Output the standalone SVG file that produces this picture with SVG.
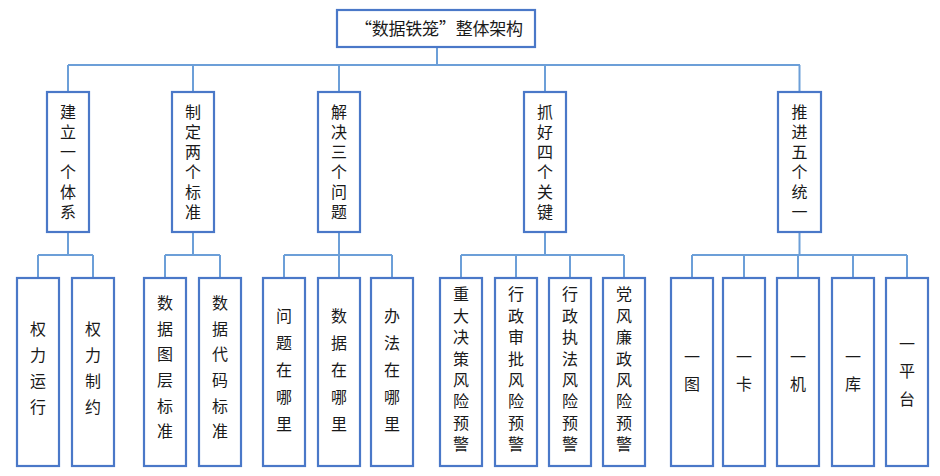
<svg xmlns="http://www.w3.org/2000/svg" width="940" height="476" viewBox="0 0 940 476">
<style>
.box{fill:#fff;stroke:#4a78c8;stroke-width:2.2}
.ln{stroke:#6c9fd8;stroke-width:2;fill:none}
text{font-family:"Noto Sans CJK SC","Liberation Sans",sans-serif;font-size:16px;fill:#1a1a1a;text-anchor:middle}
.v{writing-mode:vertical-rl;text-orientation:upright}
.v1{letter-spacing:4px}
</style>
<rect width="940" height="476" fill="#fff"/>
<g id="connectors">
<path class="ln" d="M437 47V65M68 65H800M68 65V92M193 65V92M339 65V92M545 65V92M799.5 65V92"/>
<path class="ln" d="M68 232V255M38 255H93M38 255V278M93 255V278"/>
<path class="ln" d="M193 232V255M165 255H220M165 255V278M220 255V278"/>
<path class="ln" d="M339 232V255M284 255H392M284 255V278M339 255V278M392 255V278"/>
<path class="ln" d="M545 232V255M461 255H624M461 255V278M516 255V278M570 255V278M624 255V278"/>
<path class="ln" d="M799.5 232V255M692 255H907M692 255V278M744 255V278M798 255V278M853 255V278M907 255V278"/>
</g>
<g id="root"><rect class="box" x="337" y="10" width="198" height="37"/><text x="439" y="35" style="font-size:17px" textLength="168" lengthAdjust="spacing">“数据铁笼”整体架构</text></g>
<g id="l1a"><rect class="box" x="47" y="92" width="42" height="140"/><text class="v v1" x="68" y="164">建立一个体系</text></g>
<g id="l1b"><rect class="box" x="172" y="92" width="42" height="140"/><text class="v v1" x="193" y="164">制定两个标准</text></g>
<g id="l1c"><rect class="box" x="318" y="92" width="42" height="140"/><text class="v v1" x="339" y="164">解决三个问题</text></g>
<g id="l1d"><rect class="box" x="524" y="92" width="42" height="140"/><text class="v v1" x="545" y="164">抓好四个关键</text></g>
<g id="l1e"><rect class="box" x="778" y="92" width="43" height="140"/><text class="v v1" x="799.5" y="164">推进五个统一</text></g>
<g id="a1"><rect class="box" x="17" y="278" width="42" height="188"/><text class="v" x="38" y="373" style="letter-spacing:10px">权力运行</text></g>
<g id="a2"><rect class="box" x="72" y="278" width="42" height="188"/><text class="v" x="93" y="373" style="letter-spacing:10px">权力制约</text></g>
<g id="b1"><rect class="box" x="144" y="278" width="42" height="188"/><text class="v" x="165" y="372" style="letter-spacing:9.6px">数据图层标准</text></g>
<g id="b2"><rect class="box" x="199" y="278" width="42" height="188"/><text class="v" x="220" y="372" style="letter-spacing:9.6px">数据代码标准</text></g>
<g id="c1"><rect class="box" x="263" y="278" width="42" height="188"/><text class="v" x="284" y="375" style="letter-spacing:11px">问题在哪里</text></g>
<g id="c2"><rect class="box" x="318" y="278" width="42" height="188"/><text class="v" x="339" y="375" style="letter-spacing:11px">数据在哪里</text></g>
<g id="c3"><rect class="box" x="371" y="278" width="42" height="188"/><text class="v" x="392" y="375" style="letter-spacing:11px">办法在哪里</text></g>
<g id="d1"><rect class="box" x="440" y="278" width="42" height="188"/><text class="v" x="461" y="372" style="letter-spacing:5.4px">重大决策风险预警</text></g>
<g id="d2"><rect class="box" x="495" y="278" width="42" height="188"/><text class="v" x="516" y="372" style="letter-spacing:5.4px">行政审批风险预警</text></g>
<g id="d3"><rect class="box" x="549" y="278" width="42" height="188"/><text class="v" x="570" y="372" style="letter-spacing:5.4px">行政执法风险预警</text></g>
<g id="d4"><rect class="box" x="603" y="278" width="42" height="188"/><text class="v" x="624" y="372" style="letter-spacing:5.4px">党风廉政风险预警</text></g>
<g id="e1"><rect class="box" x="671" y="278" width="42" height="188"/><text class="v" x="692" y="376" style="letter-spacing:11px">一图</text></g>
<g id="e2"><rect class="box" x="723" y="278" width="42" height="188"/><text class="v" x="744" y="376" style="letter-spacing:11px">一卡</text></g>
<g id="e3"><rect class="box" x="777" y="278" width="42" height="188"/><text class="v" x="798" y="376" style="letter-spacing:11px">一机</text></g>
<g id="e4"><rect class="box" x="832" y="278" width="42" height="188"/><text class="v" x="853" y="376" style="letter-spacing:11px">一库</text></g>
<g id="e5"><rect class="box" x="886" y="278" width="42" height="188"/><text class="v" x="907" y="377" style="letter-spacing:11.5px">一平台</text></g>
</svg>
